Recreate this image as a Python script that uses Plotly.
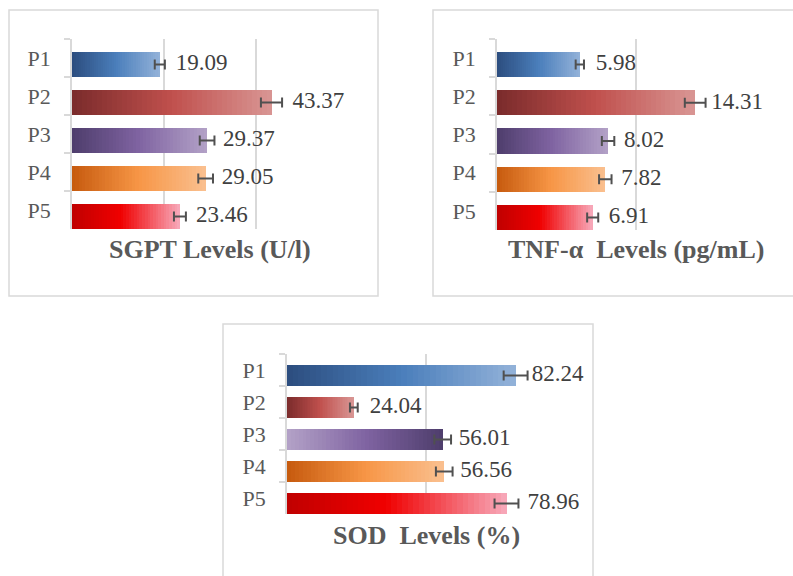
import plotly.graph_objects as go

W, H = 793, 576

categories = ["P1", "P2", "P3", "P4", "P5"]

sgpt_values = [19.09, 43.37, 29.37, 29.05, 23.46]
sgpt_errors = [1.1, 2.3, 1.6, 1.6, 1.3]

tnf_values = [5.98, 14.31, 8.02, 7.82, 6.91]
tnf_errors = [0.3, 0.75, 0.45, 0.45, 0.4]

sod_values = [82.24, 24.04, 56.01, 56.56, 78.96]
sod_errors = [4.3, 1.4, 3.0, 3.0, 4.3]

titles = ["SGPT Levels (U/l)", "TNF-α  Levels (pg/mL)", "SOD  Levels (%)"]
x_ranges = [[0, 60], [0, 20], [0, 100]]
x_dticks = [20, 10, 50]

# label padding (invisible marker size sets the text offset)
label_pads = [
    [24, 32, 24, 24, 24],
    [24, 24, 24, 24, 24],
    [24, 24, 24, 24, 32],
]

# gradient stops (fraction, hex)
grad = {
    "blue": [(0, "#2C4D7E"), (0.5, "#4A7EBB"), (1, "#93B2D9")],
    "darkred": [(0, "#7A2B2B"), (0.5, "#C0504D"), (1, "#D99694")],
    "purple": [(0, "#4E3D6C"), (0.5, "#8064A2"), (1, "#B3A2C7")],
    "purple_rev": [(0, "#B3A2C7"), (0.5, "#8064A2"), (1, "#4E3D6C")],
    "orange": [(0, "#C65A0E"), (0.5, "#F79646"), (1, "#FAC090")],
    "red": [(0, "#C00000"), (0.45, "#F00000"), (1, "#F7AABB")],
}
panel_grads = [
    ["blue", "darkred", "purple", "orange", "red"],
    ["blue", "darkred", "purple", "orange", "red"],
    ["blue", "darkred", "purple_rev", "orange", "red"],
]


def hex2rgb(h):
    h = h.lstrip("#")
    return [int(h[i:i + 2], 16) for i in (0, 2, 4)]


def color_at(stops, t):
    for (f0, c0), (f1, c1) in zip(stops[:-1], stops[1:]):
        if t <= f1:
            u = (t - f0) / (f1 - f0)
            a, b = hex2rgb(c0), hex2rgb(c1)
            return "rgb(%d,%d,%d)" % tuple(round(a[i] + (b[i] - a[i]) * u) for i in range(3))
    return stops[-1][1]


def px_x(p):
    return p / W


def px_y(p):
    return 1 - p / H


domains = [
    ([72, 348], [39, 229]),
    ([497, 774], [39, 230]),
    ([287, 565], [354, 514]),
]
frames = [
    (9, 10, 378, 296),
    (433, 10, 800, 296),
    (223, 324, 593, 600),
]
title_y = [249, 249, 535]

# bar sits at the bottom of each category band (Excel-like)
BAR_W = 0.66
BAR_OFF = 0.5 - BAR_W
BAR_MID = BAR_OFF + BAR_W / 2

data = [(sgpt_values, sgpt_errors), (tnf_values, tnf_errors), (sod_values, sod_errors)]

fig = go.Figure()
N = 40
FONT = "Liberation Serif, Times New Roman, serif"
TXT = "#404040"
GRID = "#D9D9D9"
n_cat = len(categories)
yrange = [n_cat - 0.5, -0.5]

for p, (vals, errs) in enumerate(data):
    xa = "x" if p == 0 else "x%d" % (p + 1)
    ya = "y" if p == 0 else "y%d" % (p + 1)
    ya_ov = "y%d" % (p + 4)
    for k in range(N):
        t = (k + 0.5) / N
        fig.add_trace(go.Bar(
            x=[v / N for v in vals], y=categories, orientation="h",
            width=BAR_W, offset=BAR_OFF,
            marker=dict(color=[color_at(grad[g], t) for g in panel_grads[p]], line=dict(width=0)),
            xaxis=xa, yaxis=ya, showlegend=False, hoverinfo="skip",
        ))
    fig.add_trace(go.Scatter(
        x=vals, y=[i + BAR_MID for i in range(n_cat)], mode="markers+text",
        marker=dict(size=label_pads[p], color="rgba(0,0,0,0)", opacity=0,
                    line=dict(width=0, color="rgba(0,0,0,0)")),
        text=["%.2f" % v for v in vals], textposition="middle right",
        textfont=dict(family=FONT, size=23, color=TXT),
        error_x=dict(type="data", array=errs, color="#505050", thickness=2, width=5),
        xaxis=xa, yaxis=ya_ov, showlegend=False, hoverinfo="skip", cliponaxis=False,
    ))

layout = dict(
    width=W, height=H, margin=dict(l=0, r=0, t=0, b=0),
    paper_bgcolor="white", plot_bgcolor="white",
    barmode="stack", showlegend=False,
    shapes=[], annotations=[],
)
for p in range(3):
    xk = "xaxis" if p == 0 else "xaxis%d" % (p + 1)
    yk = "yaxis" if p == 0 else "yaxis%d" % (p + 1)
    yk_ov = "yaxis%d" % (p + 4)
    yref = "y" if p == 0 else "y%d" % (p + 1)
    xref = "x" if p == 0 else "x%d" % (p + 1)
    (dx0, dx1), (dy0, dy1) = domains[p]
    layout[xk] = dict(
        domain=[px_x(dx0), px_x(dx1)], range=x_ranges[p], dtick=x_dticks[p],
        showgrid=True, gridcolor=GRID, gridwidth=1.5, zeroline=False,
        showticklabels=False, showline=False, anchor=yref, fixedrange=True,
    )
    layout[yk] = dict(
        domain=[px_y(dy1), px_y(dy0)], range=yrange, type="category",
        categoryorder="array", categoryarray=categories,
        showline=True, linecolor=GRID, linewidth=1.5,
        ticks="outside", tickson="boundaries", ticklen=6, tickcolor=GRID, tickwidth=1.5,
        tickfont=dict(family=FONT, size=22, color="#595959"), ticklabelstandoff=15,
        showgrid=False, anchor=xref, fixedrange=True,
    )
    layout[yk_ov] = dict(
        overlaying=yref, anchor=xref, type="linear", range=yrange,
        visible=False, showgrid=False, zeroline=False, fixedrange=True,
    )
    x0, y0, x1, y1 = frames[p]
    layout["shapes"].append(dict(
        type="rect", xref="paper", yref="paper",
        x0=px_x(x0), x1=px_x(x1), y0=px_y(y1), y1=px_y(y0),
        line=dict(color=GRID, width=1.5), fillcolor="rgba(0,0,0,0)", layer="below",
    ))
    layout["annotations"].append(dict(
        text="<b>%s</b>" % titles[p], xref="paper", yref="paper",
        x=px_x((dx0 + dx1) / 2), y=px_y(title_y[p]), xanchor="center", yanchor="middle",
        showarrow=False, font=dict(family=FONT, size=26, color="#595959"),
    ))

fig.update_layout(**layout)
fig.write_html(
    "out.html",
    config={"displayModeBar": False},
    post_script="document.body.style.margin='0';document.body.style.overflow='hidden';",
)
